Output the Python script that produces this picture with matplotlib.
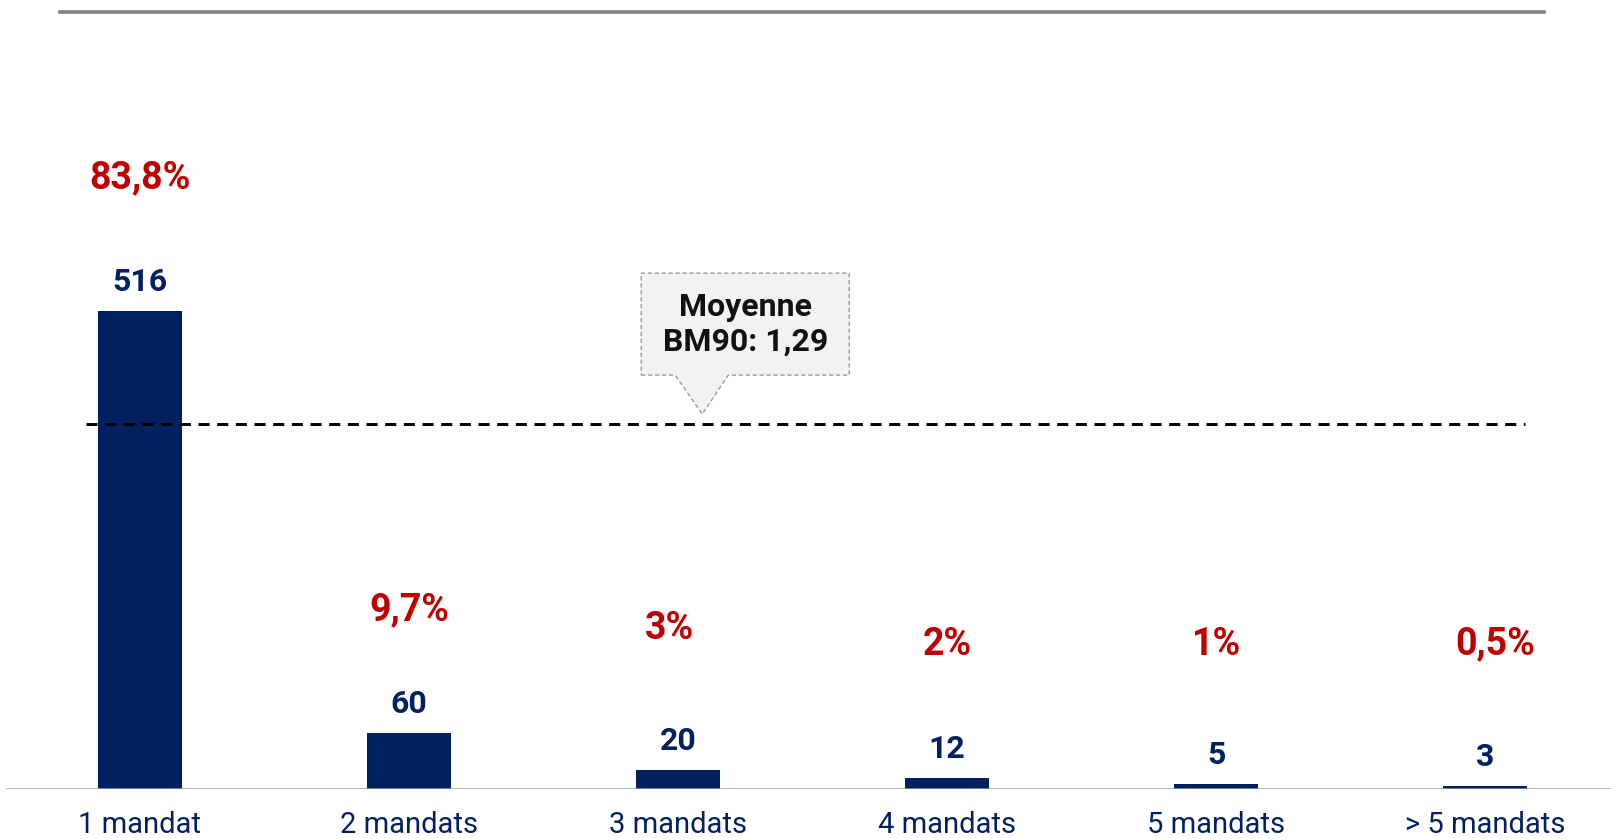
import matplotlib
matplotlib.use("Agg")
import matplotlib.pyplot as plt
from matplotlib import transforms
from matplotlib.patches import Polygon

plt.rcParams["font.family"] = ["Roboto", "DejaVu Sans"]

# Distribution des administrateurs par nombre de mandats
categories = ["1 mandat", "2 mandats", "3 mandats", "4 mandats", "5 mandats", "> 5 mandats"]
counts = [516, 60, 20, 12, 5, 3]
shares = ["83,8%", "9,7%", "3%", "2%", "1%", "0,5%"]
moyenne_label = "Moyenne\nBM90: 1,29"

# layout (data units on the count axis, x nudges in points)
share_label_y = [649, 182, 162, 145, 145, 145]
share_label_dx = [0, 0, -6, 0, 0, 7]
moyenne_level = 394

NAVY = "#002060"
RED = "#C00000"
GRID_GREY = "#9a9a9a"

W, H = 1611, 839
fig = plt.figure(figsize=(W / 100, H / 100), dpi=100)
ax = fig.add_axes([6 / W, 50 / H, 1 - 6 / W, 789 / H])

x = list(range(len(categories)))
ax.bar(x, counts, width=0.312, color=NAVY, zorder=2)
ax.set_xlim(-0.498, 5.468)
ax.set_ylim(0, 852)

for i, (c, s) in enumerate(zip(counts, shares)):
    ax.annotate(str(c), (i, c), xytext=(0, 14.4), textcoords="offset points",
                ha="center", va="baseline", fontsize=23, fontweight="bold",
                color=NAVY)
    ax.annotate(s, (i, share_label_y[i]), xytext=(share_label_dx[i], 0),
                textcoords="offset points", ha="center", va="baseline",
                fontsize=27, fontweight="bold", color=RED)

# baseline and dashed average line
ax.axhline(0, color=GRID_GREY, linewidth=1.8, zorder=3)
ax.hlines(moyenne_level, -0.2, 5.15, colors="black", linewidth=2.1,
          linestyles=(0, (3.8, 2.6)), zorder=3)

# callout box pointing at the average line (vertices in pixels around the tip)
tip = transforms.ScaledTranslation(2.09, moyenne_level, ax.transData)
tip_trans = transforms.Affine2D().translate(0, 10) + tip
callout = Polygon(
    [(-61, 39), (-27, 39), (0, 0), (26, 39), (147, 39), (147, 141), (-61, 141)],
    closed=True, transform=tip_trans, facecolor="#F2F2F2",
    edgecolor="#9a9a9a", linewidth=1.0, linestyle=(0, (3, 2)), zorder=4,
)
ax.add_patch(callout)
ax.text(43, 90, moyenne_label, transform=tip_trans, ha="center", va="center",
        fontsize=23, fontweight="bold", color="#111111", linespacing=1.2,
        zorder=5)

ax.set_xticks(x)
ax.set_xticklabels(categories, fontsize=21, color=NAVY)
ax.tick_params(axis="x", length=0, pad=15.5)
ax.set_yticks([])
for spine in ax.spines.values():
    spine.set_visible(False)

# header rule
fig.add_artist(plt.Line2D([60 / W, 1544 / W], [1 - 11.5 / H, 1 - 11.5 / H],
                          transform=fig.transFigure, color="#808080",
                          linewidth=2.6))

fig.savefig("out.png", dpi=100)
